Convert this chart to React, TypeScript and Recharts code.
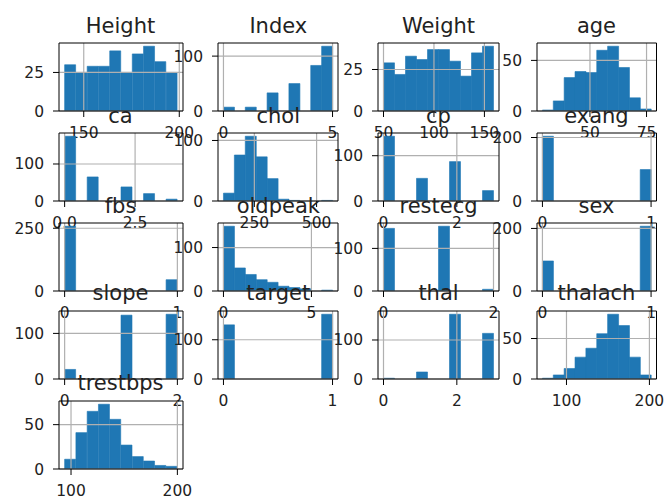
import React from "react";
import { BarChart, Bar, XAxis, YAxis, ReferenceLine } from "recharts";

// counts per bin (10 bins each, as pandas df.hist draws them)
const heightCounts = [30, 25, 29, 29, 39, 25, 37, 42, 32, 25];
const indexCounts = [7, 0, 7, 0, 33, 0, 50, 0, 83, 118];
const weightCounts = [29, 22, 33, 31, 37, 37, 30, 21, 35, 39];
const ageCounts = [1, 10, 33, 39, 38, 60, 64, 43, 13, 2];
const caCounts = [175, 0, 65, 0, 0, 38, 0, 20, 0, 5];
const cholCounts = [13, 76, 107, 73, 37, 3, 1, 0, 0, 1];
const cpCounts = [143, 0, 0, 50, 0, 0, 87, 0, 0, 23];
const exangCounts = [204, 0, 0, 0, 0, 0, 0, 0, 0, 99];
const fbsCounts = [258, 0, 0, 0, 0, 0, 0, 0, 0, 45];
const oldpeakCounts = [149, 53, 38, 26, 20, 11, 8, 5, 0, 2];
const restecgCounts = [147, 0, 0, 0, 0, 152, 0, 0, 0, 4];
const sexCounts = [96, 0, 0, 0, 0, 0, 0, 0, 0, 207];
const slopeCounts = [21, 0, 0, 0, 0, 140, 0, 0, 0, 142];
const targetCounts = [138, 0, 0, 0, 0, 0, 0, 0, 0, 165];
const thalCounts = [2, 0, 0, 18, 0, 0, 166, 0, 0, 117];
const thalachCounts = [1, 5, 13, 27, 38, 56, 80, 66, 27, 5];
const trestbpsCounts = [11, 41, 65, 73, 56, 27, 14, 9, 4, 3];

// min / max of each column
const heightRange = [140, 199];
const indexRange = [0, 5];
const weightRange = [50, 159];
const ageRange = [29, 77];
const caRange = [0, 4];
const cholRange = [126, 564];
const cpRange = [0, 3];
const binaryRange = [0, 1];
const oldpeakRange = [0, 6.2];
const triRange = [0, 2];
const thalRange = [0, 3];
const thalachRange = [71, 202];
const trestbpsRange = [94, 200];

const panels = [
  { title: "Height", counts: heightCounts, range: heightRange, xTicks: [150, 200], yTicks: [0, 25] },
  { title: "Index", counts: indexCounts, range: indexRange, xTicks: [0, 5], yTicks: [0, 100] },
  { title: "Weight", counts: weightCounts, range: weightRange, xTicks: [50, 100, 150], yTicks: [0, 25] },
  { title: "age", counts: ageCounts, range: ageRange, xTicks: [50, 75], yTicks: [0, 50] },
  { title: "ca", counts: caCounts, range: caRange, xTicks: [0, 2.5], yTicks: [0, 100], fmt: (v: number) => v.toFixed(1) },
  { title: "chol", counts: cholCounts, range: cholRange, xTicks: [250, 500], yTicks: [0, 100] },
  { title: "cp", counts: cpCounts, range: cpRange, xTicks: [0, 2], yTicks: [0, 100] },
  { title: "exang", counts: exangCounts, range: binaryRange, xTicks: [0, 1], yTicks: [0, 200] },
  { title: "fbs", counts: fbsCounts, range: binaryRange, xTicks: [0, 1], yTicks: [0, 250] },
  { title: "oldpeak", counts: oldpeakCounts, range: oldpeakRange, xTicks: [0, 5], yTicks: [0, 100] },
  { title: "restecg", counts: restecgCounts, range: triRange, xTicks: [0, 2], yTicks: [0, 100] },
  { title: "sex", counts: sexCounts, range: binaryRange, xTicks: [0, 1], yTicks: [0, 200] },
  { title: "slope", counts: slopeCounts, range: triRange, xTicks: [0, 2], yTicks: [0, 100] },
  { title: "target", counts: targetCounts, range: binaryRange, xTicks: [0, 1], yTicks: [0, 100] },
  { title: "thal", counts: thalCounts, range: thalRange, xTicks: [0, 2], yTicks: [0, 100] },
  { title: "thalach", counts: thalachCounts, range: thalachRange, xTicks: [100, 200], yTicks: [0, 50] },
  { title: "trestbps", counts: trestbpsCounts, range: trestbpsRange, xTicks: [100, 200], yTicks: [0, 50] },
];

// subplot boxes
const colLeft = [58.5, 218.3, 378, 536.7];
const colWidth = [124, 120, 121, 119.5];
const rowTop = [43.3, 133.3, 223.3, 311, 401];
const boxH = 68;
const AXIS_W = 52;

const BLUE = "#1f77b4";
const GRID = "#b0b0b0";
const INK = "#222";
const TICK_FONT = 15.5;
const TITLE_FONT = 21;

function Hist({ p, left, top, width }: any) {
  const [lo, hi] = p.range;
  const w = (hi - lo) / p.counts.length;
  const data = p.counts.map((c: number, i: number) => ({ x: lo + (i + 0.5) * w, n: c }));
  const pad = (hi - lo) * 0.05;
  const ymax = Math.max(...p.counts) * 1.05;
  const tick = { fill: INK, fontSize: TICK_FONT };
  return (
    <div style={{ position: "absolute", left: left - AXIS_W, top: top - 4 }}>
      <BarChart
        width={width + AXIS_W + 22}
        height={boxH + 4 + 34}
        data={data}
        margin={{ top: 4, right: 22, bottom: 0, left: 0 }}
        barCategoryGap={0}
        barGap={0}
      >
        <XAxis
          dataKey="x"
          type="number"
          domain={[lo - pad, hi + pad]}
          allowDataOverflow
          ticks={p.xTicks}
          interval={0}
          tickFormatter={p.fmt}
          height={34}
          tickSize={6}
          tickMargin={10}
          stroke="#000"
          tick={tick}
        />
        <YAxis
          type="number"
          domain={[0, ymax]}
          allowDataOverflow
          ticks={p.yTicks}
          interval={0}
          width={AXIS_W}
          tickSize={6}
          tickMargin={9}
          stroke="#000"
          tick={tick}
        />
        <Bar dataKey="n" fill={BLUE} stroke={BLUE} strokeWidth={0.6} isAnimationActive={false} />
        {p.xTicks.map((t: number) => (
          <ReferenceLine key={"x" + t} x={t} stroke={GRID} strokeWidth={1.2} />
        ))}
        {p.yTicks.map((t: number) => (
          <ReferenceLine key={"y" + t} y={t} stroke={GRID} strokeWidth={1.2} />
        ))}
        {/* top and right spines */}
        <ReferenceLine x={hi + pad} stroke="#000" strokeWidth={1} />
        <ReferenceLine y={ymax} stroke="#000" strokeWidth={1} />
      </BarChart>
    </div>
  );
}

export default function App() {
  return (
    <div
      style={{
        position: "absolute",
        left: 0,
        top: 0,
        width: 666,
        height: 500,
        background: "#fff",
        fontFamily: "DejaVu Sans",
        overflow: "hidden",
      }}
    >
      {panels.map((p, i) => (
        <Hist key={p.title} p={p} left={colLeft[i % 4]} top={rowTop[Math.floor(i / 4)]} width={colWidth[i % 4]} />
      ))}
      {panels.map((p, i) => (
        <div
          key={"t" + p.title}
          style={{
            position: "absolute",
            left: colLeft[i % 4],
            width: colWidth[i % 4],
            top: rowTop[Math.floor(i / 4)] - 27.8,
            textAlign: "center",
            fontSize: TITLE_FONT,
            lineHeight: TITLE_FONT + "px",
            color: INK,
            whiteSpace: "nowrap",
          }}
        >
          {p.title}
        </div>
      ))}
    </div>
  );
}
